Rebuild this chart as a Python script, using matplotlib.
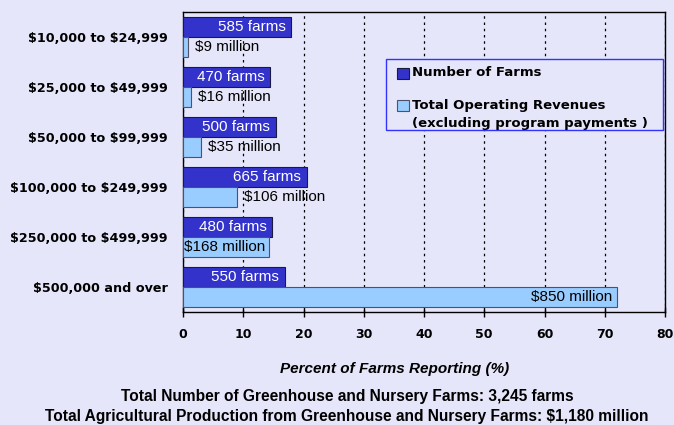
import numpy as np
import matplotlib
matplotlib.use("Agg")
import matplotlib.pyplot as plt
from matplotlib.patches import Rectangle

plt.rcParams["text.parse_math"] = False   # los "$" son texto normal

# ---------------------------
# Datos
# ---------------------------
categorias = ["$10,000 to $24,999", "$25,000 to $49,999", "$50,000 to $99,999",
              "$100,000 to $249,999", "$250,000 to $499,999", "$500,000 and over"]
pct_granjas = [18.0, 14.5, 15.4, 20.5, 14.8, 16.9]      # % de granjas
pct_ingresos = [0.8, 1.4, 3.0, 9.0, 14.3, 72.0]         # % de ingresos
etiq_granjas = ["585 farms", "470 farms", "500 farms", "665 farms", "480 farms", "550 farms"]
etiq_ingresos = ["$9 million", "$16 million", "$35 million", "$106 million",
                 "$168 million", "$850 million"]
xticks = [0, 10, 20, 30, 40, 50, 60, 70, 80]

FONDO = "#E6E6FA"
AZUL_OSC = "#3333CC"
AZUL_CLA = "#99CCFF"

# ---------------------------
# Figura
# ---------------------------
fig = plt.figure(figsize=(6.74, 4.25), dpi=100, facecolor=FONDO)
ax = fig.add_axes([183 / 674, 1 - 312 / 425, 482 / 674, 300 / 425], facecolor=FONDO)

y = np.arange(len(categorias))
h = 0.4

ax.barh(y - h / 2, pct_granjas, height=h, color=AZUL_OSC, edgecolor="#1a1a40",
        linewidth=0.8, zorder=3)
ax.barh(y + h / 2, pct_ingresos, height=h, color=AZUL_CLA, edgecolor="#50506a",
        linewidth=0.8, zorder=3)

# etiquetas de granjas (blancas, dentro del final de la barra)
for yi, v, t in zip(y, pct_granjas, etiq_granjas):
    ax.annotate(t, (v, yi - h / 2), xytext=(-4, 0), textcoords="offset points",
                ha="right", va="center", color="white", fontsize=11,
                family="Liberation Sans", zorder=4)

# etiquetas de ingresos (fuera si la barra es corta)
for yi, v, t in zip(y, pct_ingresos, etiq_ingresos):
    if v > 12:
        ax.annotate(t, (v, yi + h / 2), xytext=(-3, 0), textcoords="offset points",
                    ha="right", va="center", color="black", fontsize=11,
                    family="Liberation Sans", zorder=4)
    else:
        ax.annotate(t, (v, yi + h / 2), xytext=(5, 0), textcoords="offset points",
                    ha="left", va="center", color="black", fontsize=11,
                    family="Liberation Sans", zorder=4)

ax.set_xlim(0, 80)
ax.set_ylim(len(categorias) - 0.5, -0.5)
ax.set_xticks(xticks)
ax.set_xticklabels([str(v) for v in xticks], fontsize=9, fontweight="bold",
                   family="DejaVu Sans")
ax.set_yticks(y)
ax.set_yticklabels(categorias, fontsize=9.2, fontweight="bold", family="DejaVu Sans")
ax.tick_params(axis="y", length=0, pad=11)
ax.tick_params(axis="x", direction="inout", length=7, width=1, pad=8)

ax.grid(axis="x", color="black", linestyle=(0, (2, 3)), linewidth=0.9, zorder=0)
for s in ax.spines.values():
    s.set_color("black")
    s.set_linewidth(1)

# ---------------------------
# Leyenda (manual)
# ---------------------------
ax.add_patch(Rectangle((0.421, 0.608), 0.575, 0.235, transform=ax.transAxes,
                       facecolor=FONDO, edgecolor="#3333FF", linewidth=1, zorder=5))
ax.add_patch(Rectangle((0.445, 0.778), 0.024, 0.037, transform=ax.transAxes,
                       facecolor=AZUL_OSC, edgecolor="#1a1a40", linewidth=0.8, zorder=6))
ax.add_patch(Rectangle((0.445, 0.671), 0.024, 0.037, transform=ax.transAxes,
                       facecolor=AZUL_CLA, edgecolor="#50506a", linewidth=0.8, zorder=6))
ax.text(0.476, 0.797, "Number of Farms", transform=ax.transAxes, va="center",
        fontsize=9.5, fontweight="bold", family="DejaVu Sans", zorder=6)
ax.text(0.476, 0.690, "Total Operating Revenues", transform=ax.transAxes, va="center",
        fontsize=9.5, fontweight="bold", family="DejaVu Sans", zorder=6)
ax.text(0.476, 0.628, "(excluding program payments )", transform=ax.transAxes,
        va="center", fontsize=9.5, fontweight="bold", family="DejaVu Sans", zorder=6)

# ---------------------------
# Textos inferiores
# ---------------------------
fig.text(395 / 674, 1 - 369 / 425, "Percent of Farms Reporting (%)", ha="center",
         va="center", fontsize=11, fontweight="bold", style="italic",
         family="Liberation Sans")
fig.text(347 / 674, 1 - 397 / 425, "Total Number of Greenhouse and Nursery Farms: 3,245 farms",
         ha="center", va="center", fontsize=11.2, fontweight="bold", family="Liberation Sans")
fig.text(347 / 674, 1 - 416 / 425,
         "Total Agricultural Production from Greenhouse and Nursery Farms: $1,180 million",
         ha="center", va="center", fontsize=11.2, fontweight="bold", family="Liberation Sans")

fig.savefig("out.png", dpi=100, facecolor=FONDO)
